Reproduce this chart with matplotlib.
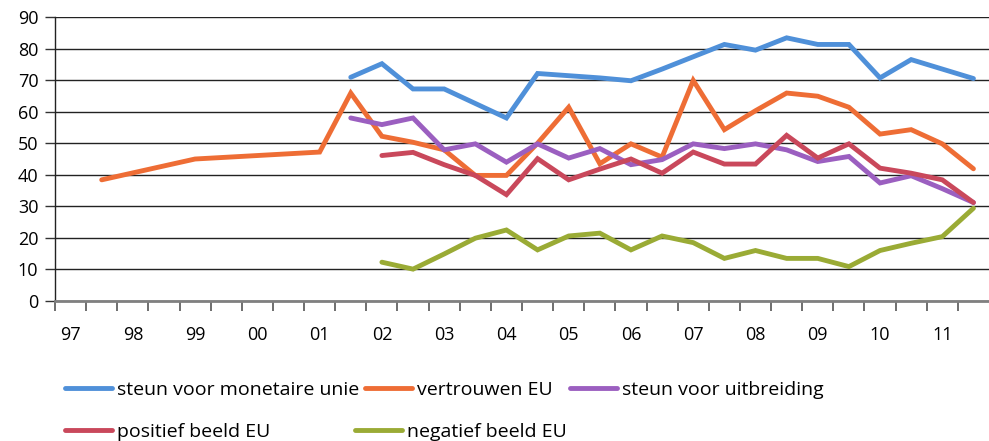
import numpy as np
import matplotlib
matplotlib.use("Agg")
import matplotlib.pyplot as plt

plt.rcParams['font.family'] = ['Open Sans', 'DejaVu Sans']

# half-year categories 1997 .. 2011 (30 in total), label every second one
years = ['97', '98', '99', '00', '01', '02', '03', '04', '05', '06', '07', '08', '09', '10', '11']

# series: category index -> value (gaps are bridged, like the original)
monetair_x = [9, 10, 11, 12, 14, 15, 16, 17, 18, 19, 20, 21, 22, 23, 24, 25, 26, 27, 28, 29]
monetair_y = [70.9, 75.2, 67.2, 67.2, 58.0, 72.1, 71.4, 70.7, 69.8, 73.5, 77.4, 81.3, 79.5, 83.4,
              81.3, 81.3, 70.7, 76.5, 73.5, 70.5]

vertrouwen_x = [1, 4, 8, 9, 10, 11, 12, 13, 14, 15, 16, 17, 18, 19, 20, 21, 22, 23, 24, 25, 26, 27, 28, 29]
vertrouwen_y = [38.4, 45.0, 47.2, 65.9, 52.2, 50.3, 47.9, 39.8, 39.8, 50.0, 61.4, 43.5, 49.8, 45.6,
                69.9, 54.3, 60.3, 65.9, 64.9, 61.4, 52.9, 54.3, 49.8, 41.9]

uitbreiding_x = [9, 10, 11, 12, 13, 14, 15, 16, 17, 18, 19, 20, 21, 22, 23, 24, 25, 26, 27, 28, 29]
uitbreiding_y = [58.0, 55.9, 58.0, 47.9, 49.8, 44.0, 49.8, 45.3, 48.3, 43.2, 44.8, 49.8, 48.3, 49.8,
                 47.9, 44.2, 45.8, 37.4, 39.7, 35.6, 31.2]

positief_x = [10, 11, 12, 13, 14, 15, 16, 17, 18, 19, 20, 21, 22, 23, 24, 25, 26, 27, 28, 29]
positief_y = [46.1, 47.1, 43.2, 39.8, 33.7, 45.1, 38.4, 41.8, 45.0, 40.5, 47.2, 43.4, 43.4, 52.5,
              45.3, 49.8, 42.1, 40.5, 38.4, 31.2]

negatief_x = [10, 11, 12, 13, 14, 15, 16, 17, 18, 19, 20, 21, 22, 23, 24, 25, 26, 27, 28, 29]
negatief_y = [12.3, 10.1, 14.9, 19.9, 22.5, 16.2, 20.6, 21.5, 16.2, 20.6, 18.5, 13.5, 16.0, 13.5,
              13.5, 10.9, 16.0, 18.3, 20.4, 29.4]

fig = plt.figure(figsize=(9.89, 4.41), dpi=100)
ax = fig.add_axes([55 / 989, 140 / 441, 934 / 989, 284 / 441])

series = [
    (monetair_x, monetair_y, '#4f90d9', 'steun voor monetaire unie'),
    (vertrouwen_x, vertrouwen_y, '#ee6d35', 'vertrouwen EU'),
    (uitbreiding_x, uitbreiding_y, '#9b5fc0', 'steun voor uitbreiding'),
    (positief_x, positief_y, '#c9485b', 'positief beeld EU'),
    (negatief_x, negatief_y, '#9aab35', 'negatief beeld EU'),
]
handles = []
for xs, ys, col, lab in series:
    h, = ax.plot(np.array(xs) + 0.5, ys, color=col, lw=3.5, solid_capstyle='round',
                 solid_joinstyle='miter', label=lab, zorder=3)
    handles.append(h)

ax.set_xlim(0, 30)
ax.set_ylim(0, 90)
ax.set_yticks(range(0, 91, 10))
ax.yaxis.grid(True, color='#222222', lw=1.0)
ax.set_axisbelow(True)

ax.set_xticks(range(0, 30))
ax.set_xticks(np.arange(0, 30, 2) + 0.5, minor=True)
ax.set_xticklabels([])
ax.set_xticklabels(years, minor=True)
ax.tick_params(axis='x', which='major', length=7, width=1.2, color='#555555', direction='out')
ax.tick_params(axis='x', which='minor', length=0, pad=18, labelsize=13)
ax.tick_params(axis='y', length=7, width=1.0, color='#333333', pad=5, labelsize=13)

for s in ['top', 'right']:
    ax.spines[s].set_visible(False)
ax.spines['left'].set_color('#222222')
ax.spines['left'].set_linewidth(1.0)
ax.spines['bottom'].set_color('#808080')
ax.spines['bottom'].set_linewidth(2.0)

# legend entries placed like the original (two rows)
spots = [(65, 390), (365, 390), (570, 390), (65, 432), (355, 432)]
for h, (px, py) in zip(handles, spots):
    fig.legend(handles=[h], loc='center left', bbox_to_anchor=(px / 989, 1 - py / 441),
               frameon=False, borderpad=0, borderaxespad=0, handlelength=2.4,
               handletextpad=0.25, fontsize=14)

fig.savefig('out.png', dpi=100)
